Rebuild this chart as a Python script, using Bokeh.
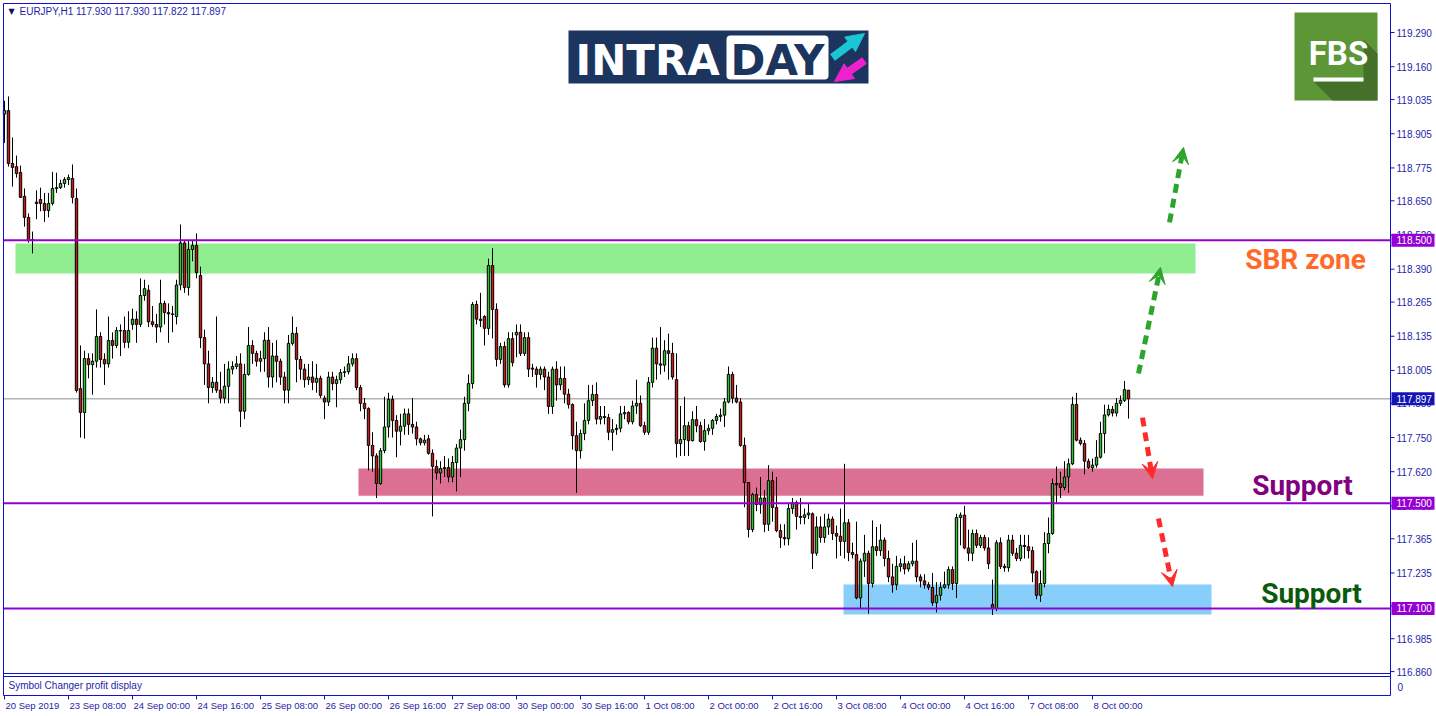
from bokeh.plotting import figure
from bokeh.models import ColumnDataSource, Label, Arrow, VeeHead, NormalHead, BoxAnnotation
from bokeh.embed import file_html
from bokeh.resources import INLINE
from bokeh.core.properties import value

# ---------------- DATA (EURJPY H1, 20 Sep 16:00 .. 8 Oct 09:00) ----------------
opens = [
 118.980, 118.993, 118.792, 118.780, 118.758, 118.667, 118.587, 118.503, 118.645, 118.655,
 118.640, 118.613, 118.640, 118.697, 118.700, 118.716, 118.731, 118.735, 118.659, 117.936,
 117.845, 118.050, 118.027, 118.040, 118.134, 118.047, 118.030, 118.119, 118.100, 118.157,
 118.157, 118.112, 118.180, 118.200, 118.180, 118.290, 118.310, 118.190, 118.180, 118.170,
 118.260, 118.225, 118.220, 118.210, 118.330, 118.490, 118.320, 118.465, 118.480, 118.366,
 118.130, 118.030, 117.940, 117.960, 117.930, 117.900, 117.945, 118.010, 118.020, 118.030,
 117.850, 117.990, 118.100, 118.070, 118.040, 118.050, 118.120, 117.980, 118.060, 118.040,
 117.980, 117.930, 118.108, 118.146, 118.047, 118.010, 117.970, 117.980, 117.960, 117.975,
 117.900, 117.885, 117.980, 117.955, 117.970, 117.997, 118.000, 118.030, 118.050, 117.940,
 117.880, 117.860, 117.720, 117.680, 117.575, 117.700, 117.790, 117.895, 117.815, 117.774,
 117.793, 117.840, 117.800, 117.790, 117.745, 117.730, 117.745, 117.690, 117.640, 117.615,
 117.632, 117.636, 117.600, 117.655, 117.710, 117.742, 117.880, 117.955, 118.256, 118.200,
 118.210, 118.165, 118.404, 118.237, 118.047, 118.096, 117.950, 118.126, 118.140, 118.150,
 118.070, 118.130, 118.014, 118.010, 117.990, 118.010, 117.980, 117.868, 118.010, 117.950,
 117.975, 117.915, 117.875, 117.757, 117.700, 117.765, 117.815, 117.890, 117.914, 117.820,
 117.830, 117.826, 117.770, 117.780, 117.785, 117.840, 117.845, 117.810, 117.870, 117.880,
 117.795, 117.770, 117.960, 118.090, 118.030, 118.025, 118.080, 118.070, 117.970, 117.727,
 117.742, 117.795, 117.738, 117.818, 117.795, 117.735, 117.776, 117.785, 117.815, 117.830,
 117.835, 117.885, 117.990, 117.900, 117.885, 117.720, 117.579, 117.400, 117.533, 117.495,
 117.520, 117.420, 117.586, 117.484, 117.396, 117.370, 117.365, 117.480, 117.503, 117.450,
 117.446, 117.456, 117.460, 117.310, 117.410, 117.370, 117.410, 117.440, 117.385, 117.375,
 117.355, 117.426, 117.313, 117.305, 117.140, 117.280, 117.310, 117.195, 117.335, 117.320,
 117.360, 117.290, 117.220, 117.190, 117.260, 117.270, 117.250, 117.270, 117.280, 117.220,
 117.205, 117.190, 117.180, 117.122, 117.150, 117.180, 117.190, 117.248, 117.195, 117.446,
 117.455, 117.330, 117.310, 117.385, 117.340, 117.370, 117.330, 117.115, 117.100, 117.350,
 117.260, 117.255, 117.360, 117.310, 117.290, 117.340, 117.335, 117.320, 117.240, 117.150,
 117.195, 117.347, 117.385, 117.575, 117.575, 117.560, 117.600, 117.650, 117.876, 117.740,
 117.727, 117.660, 117.635, 117.645, 117.675, 117.765, 117.836, 117.857, 117.843, 117.880,
 117.891, 117.930]

highs = [
 119.030, 119.047, 118.891, 118.822, 118.784, 118.697, 118.602, 118.533, 118.690, 118.700,
 118.680, 118.680, 118.760, 118.757, 118.730, 118.740, 118.750, 118.788, 118.697, 118.100,
 118.080, 118.070, 118.070, 118.237, 118.150, 118.070, 118.210, 118.150, 118.170, 118.180,
 118.210, 118.230, 118.240, 118.230, 118.355, 118.350, 118.330, 118.250, 118.220, 118.350,
 118.270, 118.260, 118.250, 118.350, 118.560, 118.500, 118.500, 118.500, 118.526, 118.400,
 118.160, 118.080, 117.980, 118.210, 118.000, 118.030, 118.040, 118.040, 118.060, 118.070,
 118.030, 118.170, 118.120, 118.080, 118.080, 118.150, 118.170, 118.110, 118.120, 118.050,
 118.000, 118.140, 118.210, 118.170, 118.060, 118.030, 118.030, 118.040, 118.030, 117.985,
 117.910, 118.000, 118.000, 117.985, 118.010, 118.020, 118.060, 118.070, 118.070, 117.950,
 117.900, 117.865, 117.770, 117.690, 117.710, 117.905, 117.920, 117.910, 117.835, 117.840,
 117.860, 117.860, 117.900, 117.810, 117.750, 117.760, 117.760, 117.705, 117.665, 117.660,
 117.680, 117.670, 117.680, 117.725, 117.780, 117.905, 117.990, 118.265, 118.270, 118.300,
 118.215, 118.430, 118.470, 118.260, 118.110, 118.115, 118.150, 118.150, 118.180, 118.180,
 118.150, 118.150, 118.030, 118.020, 118.020, 118.020, 118.000, 118.020, 118.040, 118.020,
 118.020, 117.935, 117.880, 117.810, 117.780, 117.880, 117.950, 117.950, 117.960, 117.870,
 117.870, 117.840, 117.820, 117.800, 117.870, 117.870, 117.850, 117.890, 117.970, 117.910,
 117.810, 117.980, 118.130, 118.130, 118.170, 118.120, 118.145, 118.110, 118.070, 117.870,
 117.905, 117.810, 117.850, 117.870, 117.810, 117.820, 117.800, 117.820, 117.840, 117.860,
 117.900, 118.020, 118.000, 117.950, 117.900, 117.750, 117.580, 117.540, 117.560, 117.600,
 117.550, 117.645, 117.620, 117.600, 117.420, 117.420, 117.500, 117.520, 117.510, 117.520,
 117.480, 117.500, 117.465, 117.450, 117.450, 117.460, 117.460, 117.450, 117.415, 117.480,
 117.650, 117.440, 117.350, 117.430, 117.290, 117.380, 117.320, 117.435, 117.410, 117.420,
 117.370, 117.320, 117.270, 117.300, 117.290, 117.300, 117.280, 117.350, 117.360, 117.230,
 117.230, 117.200, 117.235, 117.200, 117.200, 117.240, 117.260, 117.260, 117.460, 117.465,
 117.490, 117.400, 117.400, 117.400, 117.380, 117.380, 117.370, 117.210, 117.360, 117.370,
 117.270, 117.380, 117.380, 117.330, 117.380, 117.380, 117.380, 117.335, 117.245, 117.245,
 117.390, 117.446, 117.594, 117.640, 117.620, 117.660, 117.670, 117.905, 117.920, 117.750,
 117.740, 117.670, 117.670, 117.740, 117.810, 117.875, 117.875, 117.870, 117.900, 117.910,
 117.965, 117.930]

lows = [
 118.870, 118.780, 118.704, 118.738, 118.663, 118.552, 118.491, 118.450, 118.580, 118.610,
 118.570, 118.587, 118.632, 118.680, 118.695, 118.700, 118.710, 118.640, 117.921, 117.750,
 117.746, 117.975, 117.913, 118.016, 118.016, 117.950, 118.016, 118.050, 118.090, 118.060,
 118.090, 118.090, 118.160, 118.110, 118.170, 118.270, 118.170, 118.170, 118.110, 118.150,
 118.180, 118.110, 118.150, 118.180, 118.310, 118.300, 118.290, 118.420, 118.355, 118.090,
 117.950, 117.880, 117.920, 117.920, 117.880, 117.880, 117.880, 117.990, 118.010, 117.790,
 117.820, 117.985, 118.030, 118.020, 118.000, 118.000, 117.940, 117.940, 117.960, 117.950,
 117.880, 117.880, 118.100, 117.960, 117.970, 117.940, 117.950, 117.930, 117.920, 117.900,
 117.820, 117.870, 117.930, 117.865, 117.955, 117.980, 117.990, 118.020, 117.930, 117.850,
 117.820, 117.625, 117.620, 117.520, 117.570, 117.690, 117.750, 117.750, 117.675, 117.720,
 117.760, 117.760, 117.765, 117.720, 117.720, 117.720, 117.685, 117.450, 117.590, 117.575,
 117.600, 117.580, 117.580, 117.545, 117.600, 117.700, 117.850, 117.936, 118.180, 118.170,
 118.100, 118.140, 118.127, 118.020, 118.030, 117.940, 117.940, 118.020, 118.055, 118.060,
 118.060, 117.980, 117.980, 117.940, 117.970, 117.930, 117.840, 117.840, 117.890, 117.930,
 117.880, 117.860, 117.704, 117.540, 117.670, 117.740, 117.800, 117.870, 117.800, 117.800,
 117.800, 117.740, 117.700, 117.760, 117.770, 117.820, 117.800, 117.800, 117.840, 117.790,
 117.760, 117.760, 117.940, 117.970, 117.990, 118.000, 117.970, 117.970, 117.674, 117.680,
 117.680, 117.680, 117.735, 117.770, 117.730, 117.700, 117.760, 117.760, 117.800, 117.810,
 117.790, 117.880, 117.880, 117.880, 117.715, 117.485, 117.370, 117.390, 117.470, 117.460,
 117.390, 117.395, 117.430, 117.390, 117.330, 117.340, 117.340, 117.460, 117.400, 117.420,
 117.420, 117.440, 117.250, 117.300, 117.350, 117.350, 117.380, 117.360, 117.290, 117.300,
 117.290, 117.280, 117.290, 117.135, 117.100, 117.220, 117.080, 117.180, 117.300, 117.300,
 117.260, 117.200, 117.160, 117.170, 117.240, 117.230, 117.240, 117.260, 117.200, 117.180,
 117.175, 117.170, 117.110, 117.085, 117.130, 117.175, 117.175, 117.170, 117.140, 117.340,
 117.325, 117.280, 117.280, 117.330, 117.330, 117.320, 117.250, 117.075, 117.090, 117.250,
 117.240, 117.240, 117.300, 117.280, 117.280, 117.290, 117.290, 117.200, 117.135, 117.125,
 117.180, 117.310, 117.380, 117.500, 117.520, 117.550, 117.540, 117.645, 117.735, 117.720,
 117.610, 117.630, 117.620, 117.635, 117.670, 117.690, 117.830, 117.830, 117.830, 117.870,
 117.885, 117.822]

closes = [
 118.993, 118.792, 118.777, 118.754, 118.663, 118.587, 118.499, 118.499, 118.640, 118.640,
 118.613, 118.640, 118.697, 118.700, 118.716, 118.731, 118.738, 118.663, 117.929, 117.845,
 118.050, 118.027, 118.040, 118.134, 118.047, 118.030, 118.119, 118.100, 118.157, 118.155,
 118.112, 118.157, 118.200, 118.180, 118.290, 118.316, 118.190, 118.180, 118.170, 118.260,
 118.225, 118.220, 118.218, 118.330, 118.490, 118.320, 118.465, 118.480, 118.377, 118.130,
 118.030, 117.940, 117.960, 117.930, 117.900, 117.945, 118.010, 118.020, 118.030, 117.850,
 117.990, 118.100, 118.070, 118.040, 118.050, 118.120, 117.980, 118.060, 118.040, 117.980,
 117.930, 118.108, 118.146, 118.047, 118.010, 117.970, 117.980, 117.960, 117.975, 117.910,
 117.885, 117.980, 117.955, 117.970, 117.997, 118.000, 118.030, 118.050, 117.940, 117.880,
 117.860, 117.720, 117.680, 117.575, 117.700, 117.790, 117.895, 117.815, 117.774, 117.793,
 117.840, 117.800, 117.790, 117.745, 117.730, 117.740, 117.690, 117.640, 117.615, 117.632,
 117.636, 117.600, 117.655, 117.710, 117.742, 117.880, 117.955, 118.256, 118.200, 118.195,
 118.165, 118.404, 118.237, 118.047, 118.096, 117.950, 118.126, 118.035, 118.150, 118.070,
 118.130, 118.010, 118.010, 117.990, 118.010, 117.980, 117.868, 118.010, 117.950, 117.975,
 117.915, 117.875, 117.757, 117.700, 117.765, 117.815, 117.890, 117.914, 117.820, 117.830,
 117.826, 117.770, 117.780, 117.785, 117.840, 117.845, 117.810, 117.870, 117.880, 117.795,
 117.770, 117.960, 118.090, 118.030, 118.025, 118.080, 118.070, 117.980, 117.727, 117.742,
 117.795, 117.738, 117.818, 117.795, 117.735, 117.776, 117.785, 117.815, 117.830, 117.835,
 117.885, 117.990, 117.900, 117.885, 117.720, 117.579, 117.400, 117.533, 117.495, 117.520,
 117.420, 117.586, 117.484, 117.396, 117.370, 117.365, 117.480, 117.503, 117.450, 117.446,
 117.456, 117.463, 117.310, 117.410, 117.370, 117.410, 117.440, 117.385, 117.375, 117.355,
 117.426, 117.313, 117.305, 117.140, 117.280, 117.310, 117.195, 117.335, 117.320, 117.360,
 117.290, 117.220, 117.190, 117.260, 117.270, 117.250, 117.270, 117.280, 117.220, 117.205,
 117.190, 117.180, 117.122, 117.150, 117.180, 117.190, 117.248, 117.195, 117.446, 117.455,
 117.330, 117.310, 117.385, 117.340, 117.370, 117.330, 117.270, 117.100, 117.350, 117.260,
 117.255, 117.360, 117.310, 117.290, 117.340, 117.335, 117.320, 117.235, 117.150, 117.195,
 117.347, 117.385, 117.575, 117.570, 117.560, 117.600, 117.650, 117.876, 117.740, 117.727,
 117.660, 117.635, 117.645, 117.675, 117.765, 117.836, 117.857, 117.843, 117.880, 117.891,
 117.932, 117.897]

tick_bars = [0, 16, 32, 48, 64, 80, 96, 112, 128, 144, 160, 176, 192, 208, 224, 240, 256, 272]
tick_labels = ["20 Sep 2019", "23 Sep 08:00", "24 Sep 00:00", "24 Sep 16:00", "25 Sep 08:00",
               "26 Sep 00:00", "26 Sep 16:00", "27 Sep 08:00", "30 Sep 00:00", "30 Sep 16:00",
               "1 Oct 08:00", "2 Oct 00:00", "2 Oct 16:00", "3 Oct 08:00", "4 Oct 00:00",
               "4 Oct 16:00", "7 Oct 08:00", "8 Oct 00:00"]
price_ticks = [119.290, 119.160, 119.035, 118.905, 118.775, 118.650, 118.520, 118.390, 118.265,
               118.135, 118.005, 117.880, 117.750, 117.620, 117.490, 117.365, 117.235, 117.110,
               116.985, 116.860]
levels = [118.500, 117.500, 117.100]
last_price = 117.897
header = "EURJPY,H1  117.930 117.930 117.822 117.897"

# zones: (bar_left, bar_right, price_bottom, price_top)
zone_sbr = (2.75, 297.75, 118.374, 118.488)
zone_sup1 = (88.5, 299.75, 117.529, 117.632)
zone_sup2 = (209.75, 301.75, 117.077, 117.191)
# projection arrows: (bar_start, price_start, bar_end, price_end)
arrows_up = [(283.5, 117.993, 289.0, 118.397), (291.25, 118.568, 294.75, 118.853)]
arrows_down = [(284.5, 117.826, 287.0, 117.594), (288.5, 117.442, 292.0, 117.183)]

# ---------------- LAYOUT ----------------
W, H = 1436, 716
KX = 4.0        # px per bar
KY = 263.0      # px per price unit

def bx(px):   # canvas x -> bar coordinate
    return (px - 4) / KX

def py(px):   # canvas y -> price coordinate
    return 119.290 - (px - 32) / KY

BLUE = "#1010D0"
TXT = "#1E1EA8"
PURPLE = "#9400D3"
FONT = value("Liberation Sans")

n = min(len(opens), len(highs), len(lows), len(closes))
xs = list(range(n))
tops = [max(opens[i], closes[i]) for i in range(n)]
bots = [min(opens[i], closes[i]) for i in range(n)]
cols = ["#22CC22" if closes[i] >= opens[i] else "#D01515" for i in range(n)]
src = ColumnDataSource(dict(x=xs, h=highs[:n], l=lows[:n], top=tops, bottom=bots, color=cols))

p = figure(width=W, height=H, x_range=(bx(0), bx(W)), y_range=(py(H), py(0)),
           output_backend="svg", toolbar_location=None, x_axis_location=None, y_axis_location=None,
           min_border=0, background_fill_color="white", border_fill_color="white")
p.xgrid.visible = False
p.ygrid.visible = False
p.outline_line_color = None

L, R, T, B = bx(3), bx(1390), py(3), py(695)

# zones
for (l, r, b, t), c in [(zone_sbr, "#90EE90"), (zone_sup1, "#DB7093"), (zone_sup2, "#87CEFA")]:
    p.quad(left=[l], right=[r], bottom=[b], top=[t], fill_color=c, line_color=None)

# current price line
p.segment(x0=[L], x1=[R], y0=[last_price], y1=[last_price], line_color="#8C8C8C", line_width=1)

# candles
p.segment(x0="x", y0="h", x1="x", y1="l", source=src, line_color="black", line_width=1)
p.vbar(x="x", width=0.6, top="top", bottom="bottom", source=src,
       fill_color="color", line_color="black", line_width=1)

# level lines
p.segment(x0=[L] * 3, x1=[R] * 3, y0=levels, y1=levels, line_color=PURPLE, line_width=2)

# chart frame: main window, sub-window, price scale line
p.segment(x0=[L, L, L, L, L, R], x1=[R, R, R, R, L, R],
          y0=[T, py(673), py(676), B, T, T], y1=[T, py(673), py(676), B, B, B],
          line_color=BLUE, line_width=1)

# price scale
p.segment(x0=[R] * len(price_ticks), x1=[bx(1394)] * len(price_ticks), y0=price_ticks, y1=price_ticks,
          line_color=BLUE, line_width=1)
p.text(x=[bx(1396)] * len(price_ticks), y=price_ticks, text=[f"{t:.3f}" for t in price_ticks],
       text_font=FONT, text_font_size="10px", text_color=TXT, text_align="left",
       text_baseline="middle")

# price tags
tag_prices = [levels[0], last_price, levels[1], levels[2]]
tag_cols = [PURPLE, "#1414B4", PURPLE, PURPLE]
hh = 6.5 / KY
p.quad(left=[bx(1391)] * 4, right=[bx(1434)] * 4, bottom=[v - hh for v in tag_prices],
       top=[v + hh for v in tag_prices], fill_color=tag_cols, line_color=None)
p.text(x=[bx(1396)] * 4, y=tag_prices, text=[f"{v:.3f}" for v in tag_prices], text_font=FONT,
       text_font_size="10px", text_color="white", text_align="left", text_baseline="middle")

# time scale
p.segment(x0=tick_bars, x1=tick_bars, y0=[B] * len(tick_bars), y1=[py(699)] * len(tick_bars),
          line_color=BLUE, line_width=1)
p.text(x=tick_bars, y=[py(705)] * len(tick_bars), text=tick_labels, x_offset=1, text_font=FONT,
       text_font_size="9.5px", text_color=TXT, text_align="left", text_baseline="middle")

# sub-window texts
p.text(x=[bx(8)], y=[py(685)], text=["Symbol Changer profit display"], text_font=FONT,
       text_font_size="10px", text_color=TXT, text_align="left", text_baseline="middle")
p.text(x=[bx(1397)], y=[py(686)], text=["0"], text_font=FONT, text_font_size="10px",
       text_color=TXT, text_align="left", text_baseline="middle")

# header
p.text(x=[bx(8)], y=[py(11)], text=["\u25bc"], text_font=value("DejaVu Sans"), text_font_size="8px",
       text_color="#101060", text_align="left", text_baseline="middle")
p.text(x=[bx(19)], y=[py(11)], text=[header], text_font=FONT, text_font_size="10px",
       text_color=TXT, text_align="left", text_baseline="middle")

# projection arrows
for (x0, y0, x1, y1) in arrows_up:
    p.add_layout(Arrow(x_start=x0, y_start=y0, x_end=x1, y_end=y1, line_color="#2CA52C",
                       line_width=5, line_dash="9 6",
                       end=VeeHead(size=16, fill_color="#2CA52C", line_color="#2CA52C")))
for (x0, y0, x1, y1) in arrows_down:
    p.add_layout(Arrow(x_start=x0, y_start=y0, x_end=x1, y_end=y1, line_color="#FF2A2A",
                       line_width=5, line_dash="9 6",
                       end=VeeHead(size=16, fill_color="#FF2A2A", line_color="#FF2A2A")))

# zone captions
for txt, c, cx, cy in [("SBR zone", "#FF6A2A", 1305, 259), ("Support", "#800080", 1302, 485),
                       ("Support", "#0B5A0B", 1311, 593)]:
    p.add_layout(Label(x=bx(cx), y=py(cy), text=txt, text_font="Roboto", text_font_style="bold",
                       text_font_size="28px", text_color=c, text_align="center",
                       text_baseline="middle"))

# INTRADAY logo
p.quad(left=[bx(568)], right=[bx(868)], bottom=[py(83)], top=[py(30)], fill_color="#1B355E",
       line_color=None)
p.add_layout(BoxAnnotation(left=bx(726), right=bx(828), bottom=py(79), top=py(35),
                           fill_color="white", fill_alpha=1, line_color=None, border_radius=4))
p.add_layout(Label(x=bx(575), y=py(60), text="INTRA", text_font="DejaVu Sans", text_font_style="bold",
                   text_font_size="42px", text_color="white", text_baseline="middle"))
p.add_layout(Label(x=bx(777), y=py(60), text="DAY", text_font="DejaVu Sans", text_font_style="bold",
                   text_font_size="42px", text_color="#1B355E", text_align="center",
                   text_baseline="middle"))
p.add_layout(Arrow(x_start=bx(832), y_start=py(57), x_end=bx(864), y_end=py(33), line_color="#1CC5D3",
                   line_width=8, end=NormalHead(size=18, fill_color="#1CC5D3", line_color="#1CC5D3")))
p.add_layout(Arrow(x_start=bx(864), y_start=py(60), x_end=bx(834), y_end=py(81), line_color="#EE22CC",
                   line_width=8, end=NormalHead(size=18, fill_color="#EE22CC", line_color="#EE22CC")))

# FBS logo
p.quad(left=[bx(1294)], right=[bx(1377)], bottom=[py(100)], top=[py(12)], fill_color="#5C9637",
       line_color=None)
p.patch(x=[bx(1363), bx(1377), bx(1377), bx(1332), bx(1313), bx(1363)],
        y=[py(39), py(53), py(100), py(100), py(81), py(81)], fill_color="#44702A", line_color=None)
p.quad(left=[bx(1313)], right=[bx(1363)], bottom=[py(81)], top=[py(77)], fill_color="white",
       line_color=None)
p.add_layout(Label(x=bx(1338), y=py(53), text="FBS", text_font="Roboto", text_font_style="bold",
                   text_font_size="33px", text_color="white", text_align="center",
                   text_baseline="middle"))

open("out.html", "w").write(file_html(p, INLINE))
